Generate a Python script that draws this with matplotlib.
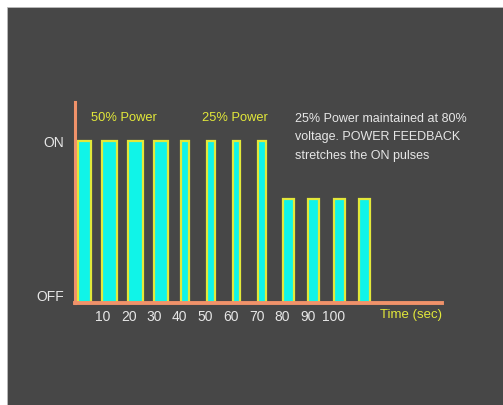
import matplotlib.pyplot as plt

# pulse data (time in sec, level: 1 = ON)
pulse_start = [0, 9.5, 19.6, 29.7, 40.4, 50.5, 60.6, 70.7, 80.2, 90.0, 100.1, 110.0]
pulse_width = [5.2, 5.8, 6.0, 5.7, 3.3, 3.3, 3.1, 3.1, 4.4, 4.6, 4.6, 4.5]
pulse_level = [1, 1, 1, 1, 1, 1, 1, 1, 0.64, 0.64, 0.64, 0.64]
tick_vals = [10, 20, 30, 40, 50, 60, 70, 80, 90, 100]
tick_labels = ['10', '20', '30', '40', '50', '60', '70', '80', '90', '100']

plt.rcParams['font.family'] = ['Liberation Sans', 'DejaVu Sans']

bg = '#474747'
orange = '#f0926a'
yellow = '#e2e83a'
cyan = '#10f4e8'
light = '#e6e6e6'

fig = plt.figure(figsize=(5.03, 4.06), dpi=100, facecolor='white')
# grey panel (white margin at top/left)
fig.patches.append(plt.Rectangle((7 / 503, 0), 1, 1 - 8 / 406, transform=fig.transFigure,
                                 facecolor=bg, edgecolor='#bbbbbb', lw=0.6, zorder=-5))

# axes: y-axis at x=75px, x-axis at y=304px
ax = fig.add_axes([75 / 503, (406 - 304) / 406, (442 - 75) / 503, (304 - 103) / 406])
ax.set_zorder(2)
ax.set_facecolor('none')
ax.set_xlim(-1, 142.5)
ax.set_ylim(0, 1.24)

ax.bar(pulse_start, pulse_level, width=pulse_width, align='edge', color=cyan,
       edgecolor=yellow, linewidth=1.6, zorder=2)

for s in ['top', 'right']:
    ax.spines[s].set_visible(False)
ax.spines['left'].set_color(orange)
ax.spines['left'].set_linewidth(2.2)
ax.spines['bottom'].set_color(orange)
ax.spines['bottom'].set_linewidth(2.8)
ax.spines['bottom'].set_zorder(3)

ax.set_xticks(tick_vals)
ax.set_xticklabels(tick_labels)
ax.set_yticks([1, 0.05])
ax.set_yticklabels(['ON', 'OFF'])
ax.tick_params(length=0, colors=light, labelsize=10)
ax.tick_params(axis='x', pad=4)
ax.tick_params(axis='y', pad=8)

ax.text(1.0, -0.025, 'Time (sec)', transform=ax.transAxes, ha='right', va='top',
        color=yellow, fontsize=9.5)
ax.text(5.2, 1.148, '50% Power', color=yellow, fontsize=9.3, va='center')
ax.text(48.5, 1.148, '25% Power', color=yellow, fontsize=9.3, va='center')
ax.text(85.2, 1.18, '25% Power maintained at 80%\nvoltage. POWER FEEDBACK\nstretches the ON pulses',
        color=light, fontsize=9.0, va='top', linespacing=1.72)

fig.savefig('out.png', dpi=100, facecolor='white')
